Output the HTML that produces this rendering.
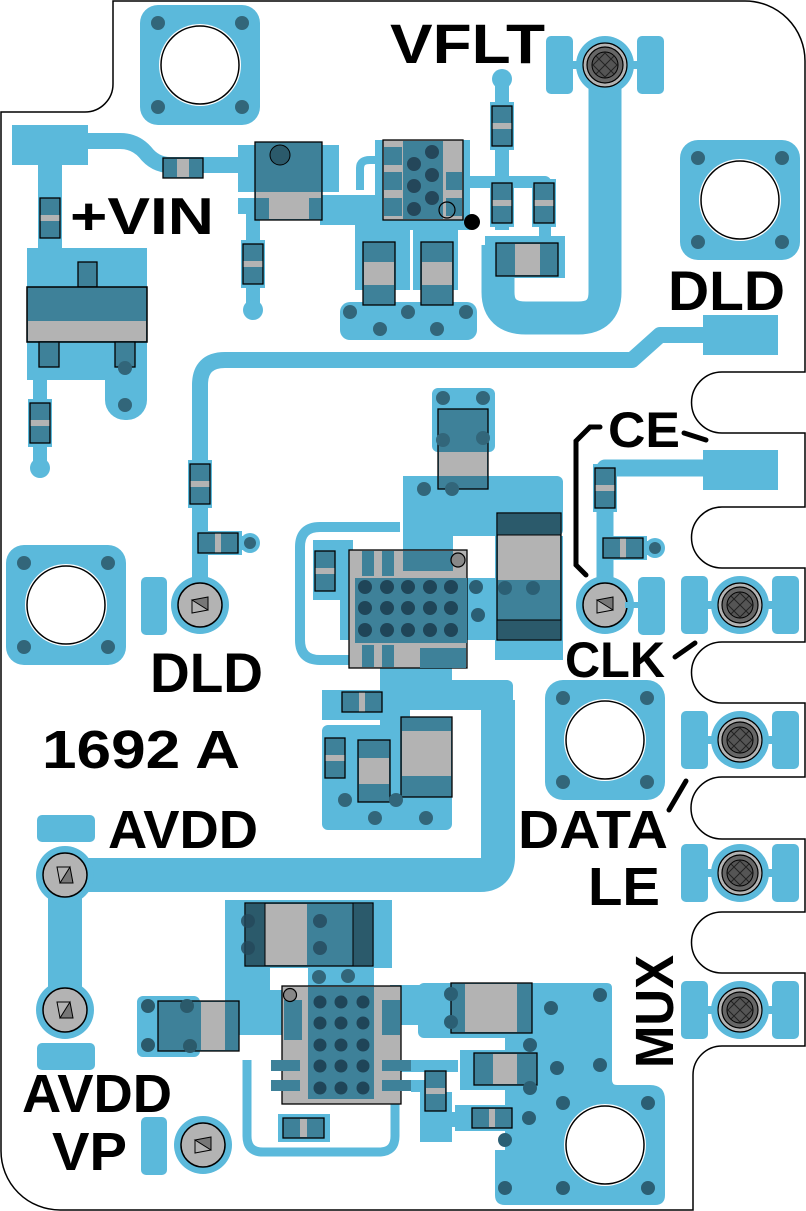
<!DOCTYPE html>
<html><head><meta charset="utf-8"><style>
html,body{margin:0;padding:0;background:#fff;}
svg{display:block;}
text{font-family:"Liberation Sans",sans-serif;font-weight:bold;fill:#000;}
</style></head><body>
<svg width="806" height="1211" viewBox="0 0 806 1211" xmlns="http://www.w3.org/2000/svg">
<defs>
<g id="conn">
 <circle r="29" fill="#5bb9db"/>
 <circle r="22" fill="#b3b3b3" stroke="#000" stroke-width="1.5"/>
 <path d="M-8,-5 L8,5 L8,-8 Z" fill="#777" stroke="#000" stroke-width="1"/>
 <path d="M-8,-5 L-8,8 L8,5" fill="none" stroke="#000" stroke-width="1"/>
</g>
<g id="dconn">
 <rect x="-59" y="-29" width="27" height="58" rx="5" fill="#5bb9db"/>
 <rect x="32" y="-29" width="27" height="58" rx="5" fill="#5bb9db"/>
 <rect x="-40" y="-4" width="80" height="8" fill="#5bb9db"/>
 <circle r="29" fill="#5bb9db"/>
 <circle r="22" fill="#b3b3b3" stroke="#000" stroke-width="1.2"/>
 <circle r="18" fill="#666" stroke="#000" stroke-width="1.2"/>
 <circle r="13" fill="#555" stroke="#000" stroke-width="1"/>
 <path d="M-9,-9 L9,9 M-9,9 L9,-9 M0,-12 L12,0 L0,12 L-12,0 Z" fill="none" stroke="#222" stroke-width="1"/>
</g>
<g id="mount">
 <rect x="-60" y="-60" width="120" height="120" rx="18" fill="#5bb9db"/>
 <circle r="41" fill="#fff"/>
 <circle r="39" fill="#fff" stroke="#000" stroke-width="1.5"/>
 <circle cx="-42" cy="-42" r="7" fill="#32667a"/><circle cx="42" cy="-42" r="7" fill="#32667a"/>
 <circle cx="-42" cy="42" r="7" fill="#32667a"/><circle cx="42" cy="42" r="7" fill="#32667a"/>
</g>
<g id="rv"><rect x="-12" y="-24" width="24" height="48" fill="#5bb9db"/><rect x="-10" y="-20" width="20" height="40" fill="#3e8199" stroke="#000" stroke-width="1.3"/><rect x="-9.3" y="-3" width="18.6" height="6" fill="#b3b3b3"/></g>
<g id="rh"><rect x="-24" y="-12" width="48" height="24" fill="#5bb9db"/><rect x="-20" y="-10" width="40" height="20" fill="#3e8199" stroke="#000" stroke-width="1.3"/><rect x="-3" y="-9.3" width="6" height="18.6" fill="#b3b3b3"/></g>
</defs>

<!-- board outline -->
<path d="M113,1 L745,1 A60,60 0 0 1 805,61 L805,372 L722,372 A30.5,30.5 0 0 0 722,433 L805,433 L805,507 L722,507 A30.5,30.5 0 0 0 722,568 L805,568 L805,642 L722,642 A30.5,30.5 0 0 0 722,703 L805,703 L805,777 L722,777 A30.5,30.5 0 0 0 722,839 L805,839 L805,912 L722,912 A30.5,30.5 0 0 0 722,973 L805,973 L805,1046 L722,1046 A29,29 0 0 0 693,1075 L693,1210 L60,1210 A59,59 0 0 1 1,1151 L1,112 L85,112 A28,28 0 0 0 113,84 Z" fill="#fff" stroke="#000" stroke-width="1.5"/>

<!-- traces -->
<g fill="none" stroke="#5bb9db" stroke-linejoin="round">
 <path d="M80,141 L120,141 Q135,141 145,152 Q155,165 170,165 L245,165" stroke-width="16"/>
 <path d="M498,245 L498,292 Q498,318 526,318 L578,318 Q605,318 605,292 L605,65" stroke-width="33"/>
 <path d="M703,335 L660,335 L632,360 L225,360 Q200,360 200,385 L200,600" stroke-width="16"/>
 <path d="M703,468 L605,468 L605,600" stroke-width="17"/>
 <path d="M50,165 L50,260" stroke-width="24"/>
 <path d="M40,370 L40,470" stroke-width="14"/>
 <path d="M253,205 L253,310" stroke-width="14"/>
 <path d="M502,79 L502,230" stroke-width="14"/>
 <path d="M400,527 L320,527 Q300,527 300,547 L300,640 Q300,660 320,660 L352,660" stroke-width="10"/>
 <path d="M65,875 L480,875 Q498,875 498,857 L498,700" stroke-width="34"/>
 <path d="M65,875 L65,1010" stroke-width="34"/>
 <path d="M247,1060 L247,1136 Q247,1152 263,1152 L379,1152 Q395,1152 395,1136 L395,1100" stroke-width="9"/>
 <path d="M360,190 L360,168 Q360,160 370,160 L390,160" stroke-width="8"/>
 <path d="M200,543 L250,543" stroke-width="14"/>
 <path d="M605,548 L655,548" stroke-width="14"/>
 <path d="M465,182 L545,182 L545,240" stroke-width="12"/>
</g>
<!-- light pads/regions -->
<g fill="#5bb9db">
 <rect x="12" y="125" width="76" height="40"/>
 <rect x="238" y="145" width="101" height="47"/>
 <rect x="238" y="198" width="165" height="16"/>
 <rect x="320" y="195" width="100" height="30"/>
 <rect x="355" y="200" width="55" height="90"/>
 <rect x="413" y="225" width="45" height="65"/>
 <rect x="375" y="140" width="95" height="90"/>
 <rect x="340" y="302" width="137" height="38" rx="10"/>
 <rect x="485" y="236" width="80" height="42"/>
 <rect x="27" y="248" width="120" height="132"/>
 <rect x="105" y="340" width="42" height="80" rx="20"/>
 <circle cx="40" cy="468" r="10"/><circle cx="253" cy="310" r="10"/><circle cx="502" cy="79" r="10"/>
 <circle cx="250" cy="543" r="10"/><circle cx="655" cy="548" r="10"/>
 <rect x="703" y="315" width="75" height="40"/>
 <rect x="703" y="450" width="75" height="40"/>
 <rect x="432" y="388" width="63" height="64" rx="6"/>
 <rect x="403" y="476" width="160" height="60" rx="6"/>
 <rect x="403" y="476" width="50" height="90"/>
 <rect x="495" y="536" width="68" height="124"/>
 <rect x="340" y="578" width="220" height="62"/>
 <rect x="313" y="540" width="40" height="60"/>
 <rect x="402" y="660" width="50" height="50"/>
 <rect x="402" y="680" width="111" height="30" rx="6"/>
 <rect x="322" y="690" width="65" height="30"/>
 <rect x="322" y="725" width="130" height="105" rx="6"/>
 <rect x="380" y="660" width="30" height="70"/>
 <rect x="141" y="577" width="26" height="58" rx="5"/>
 <rect x="141" y="1117" width="26" height="58" rx="5"/>
 <rect x="37" y="815" width="58" height="27" rx="5"/>
 <rect x="37" y="1043" width="58" height="27" rx="5"/>
 <!-- bottom area -->
 <rect x="225" y="900" width="167" height="68"/>
 <rect x="225" y="960" width="45" height="50"/>
 <rect x="225" y="990" width="60" height="45"/>
 <rect x="308" y="960" width="66" height="30"/>
 <rect x="137" y="996" width="63" height="61" rx="6"/>
 <rect x="195" y="1005" width="35" height="40"/>
 <rect x="390" y="985" width="40" height="40"/>
 <rect x="418" y="983" width="110" height="55" rx="6"/>
 <rect x="398" y="1060" width="60" height="12"/>
 <rect x="411" y="1080" width="30" height="12"/>
 <rect x="420" y="1092" width="32" height="50"/>
 <rect x="460" y="1050" width="60" height="40"/>
 <rect x="455" y="1105" width="60" height="26"/>
 <rect x="430" y="1112" width="40" height="15"/>
 <rect x="278" y="1114" width="52" height="28"/>
 <path d="M505,983 L607,983 Q612,983 612,988 L612,1080 Q612,1085 617,1085 L650,1085 Q665,1085 665,1100 L665,1195 Q665,1205 655,1205 L505,1205 Q495,1205 495,1195 L495,1150 L505,1150 Z"/>
 <rect x="505" y="983" width="12" height="140"/>
</g>
<!-- mounts -->
<use href="#mount" x="200" y="65"/>
<use href="#mount" x="740" y="200"/>
<use href="#mount" x="66" y="605"/>
<use href="#mount" x="605" y="740"/>
<circle cx="605" cy="1145" r="41" fill="#fff"/><circle cx="605" cy="1145" r="39" fill="#fff" stroke="#000" stroke-width="1.5"/>

<!-- components -->
<rect x="163" y="158" width="40" height="20" fill="#3e8199" stroke="#000" stroke-width="1.3"/><rect x="177" y="159" width="12" height="18" fill="#b3b3b3"/>
<rect x="255" y="142" width="67" height="78" fill="#3e8199" stroke="#000" stroke-width="1.3"/>
<rect x="256" y="192" width="65" height="27" fill="#b3b3b3"/><rect x="256" y="198" width="13" height="21" fill="#3e8199"/><rect x="309" y="198" width="12" height="21" fill="#3e8199"/>
<circle cx="280" cy="155" r="10" fill="#2b5a6b" stroke="#000" stroke-width="1"/>
<use href="#rv" x="50" y="218"/>
<use href="#rv" x="253" y="264"/>
<use href="#rv" x="40" y="423"/>
<rect x="78" y="262" width="19" height="25" fill="#3e8199" stroke="#000" stroke-width="1.3"/>
<rect x="27" y="287" width="120" height="55" fill="#3e8199" stroke="#000" stroke-width="1.5"/><rect x="28" y="321" width="118" height="20" fill="#b3b3b3"/>
<rect x="39" y="342" width="20" height="25" fill="#3e8199" stroke="#000" stroke-width="1.3"/>
<rect x="115" y="342" width="20" height="25" fill="#3e8199" stroke="#000" stroke-width="1.3"/>
<circle cx="125" cy="368" r="7" fill="#32667a"/><circle cx="125" cy="405" r="7" fill="#32667a"/>
<!-- vflt area -->
<rect x="383" y="140" width="80" height="80" fill="#b3b3b3" stroke="#000" stroke-width="1.3"/>
<rect x="403" y="141" width="40" height="78" fill="#3e8199"/>
<rect x="384" y="147" width="18" height="18" fill="#3e8199"/><rect x="384" y="172" width="18" height="18" fill="#3e8199"/><rect x="384" y="198" width="18" height="18" fill="#3e8199"/>
<rect x="446" y="172" width="16" height="18" fill="#3e8199"/><rect x="446" y="198" width="16" height="18" fill="#3e8199"/>
<g fill="#24475a"><circle cx="432" cy="152" r="7"/><circle cx="414" cy="164" r="7"/><circle cx="432" cy="175" r="7"/><circle cx="414" cy="186" r="7"/><circle cx="432" cy="198" r="7"/><circle cx="414" cy="209" r="7"/></g>
<circle cx="447" cy="210" r="8" fill="none" stroke="#000" stroke-width="1.2"/>
<circle cx="472" cy="222" r="8" fill="#000"/>
<use href="#rv" x="502" y="126"/><use href="#rv" x="502" y="203"/><use href="#rv" x="544" y="203"/>
<rect x="496" y="243" width="62" height="33" fill="#3e8199" stroke="#000" stroke-width="1.3"/><rect x="515" y="244" width="25" height="31" fill="#b3b3b3"/>
<rect x="363" y="242" width="32" height="63" fill="#3e8199" stroke="#000" stroke-width="1.3"/><rect x="364" y="262" width="30" height="23" fill="#b3b3b3"/>
<rect x="421" y="242" width="32" height="63" fill="#3e8199" stroke="#000" stroke-width="1.3"/><rect x="422" y="262" width="30" height="23" fill="#b3b3b3"/>
<g fill="#32667a"><circle cx="350" cy="312" r="7"/><circle cx="380" cy="329" r="7"/><circle cx="408" cy="312" r="7"/><circle cx="437" cy="329" r="7"/><circle cx="466" cy="312" r="7"/></g>
<!-- center -->
<rect x="438" y="409" width="50" height="80" fill="#3e8199" stroke="#000" stroke-width="1.3"/><rect x="439" y="452" width="48" height="24" fill="#b3b3b3"/>
<g fill="#32667a"><circle cx="443" cy="398" r="7"/><circle cx="483" cy="398" r="7"/><circle cx="443" cy="440" r="7"/><circle cx="483" cy="438" r="7"/><circle cx="424" cy="489" r="7"/><circle cx="452" cy="489" r="7"/></g>
<rect x="497" y="513" width="64" height="127" fill="#3e8199" stroke="#000" stroke-width="1.3"/>
<rect x="498" y="535" width="62" height="45" fill="#b3b3b3"/><rect x="498" y="514" width="62" height="21" fill="#2b5a6b"/><rect x="498" y="620" width="62" height="19" fill="#2b5a6b"/>
<line x1="497" y1="535" x2="561" y2="535" stroke="#000"/><line x1="497" y1="620" x2="561" y2="620" stroke="#000"/>
<rect x="349" y="550" width="118" height="118" fill="#b3b3b3" stroke="#000" stroke-width="1.3"/>
<rect x="355" y="578" width="112" height="65" fill="#3e8199"/>
<rect x="362" y="551" width="12" height="25" fill="#3e8199"/><rect x="382" y="551" width="12" height="25" fill="#3e8199"/><rect x="403" y="551" width="50" height="20" fill="#3e8199"/>
<rect x="362" y="645" width="12" height="22" fill="#3e8199"/><rect x="382" y="645" width="12" height="22" fill="#3e8199"/><rect x="420" y="648" width="46" height="20" fill="#3e8199"/>
<circle cx="458" cy="560" r="7" fill="#888" stroke="#000" stroke-width="1.2"/>
<g fill="#1f4558">
<circle cx="365" cy="587" r="7"/><circle cx="387" cy="587" r="7"/><circle cx="408" cy="587" r="7"/><circle cx="430" cy="587" r="7"/><circle cx="451" cy="587" r="7"/>
<circle cx="365" cy="608" r="7"/><circle cx="387" cy="608" r="7"/><circle cx="408" cy="608" r="7"/><circle cx="430" cy="608" r="7"/><circle cx="451" cy="608" r="7"/>
<circle cx="365" cy="630" r="7"/><circle cx="387" cy="630" r="7"/><circle cx="408" cy="630" r="7"/><circle cx="430" cy="630" r="7"/><circle cx="451" cy="630" r="7"/>
</g>
<g fill="#2b5f74"><circle cx="476" cy="587" r="7"/><circle cx="478" cy="615" r="7"/><circle cx="505" cy="588" r="7"/><circle cx="533" cy="588" r="7"/></g>
<use href="#rv" x="325" y="571"/>
<use href="#rh" x="362" y="702"/>
<use href="#rv" x="335" y="758"/>
<rect x="358" y="740" width="32" height="62" fill="#3e8199" stroke="#000" stroke-width="1.3"/><rect x="359" y="758" width="30" height="26" fill="#b3b3b3"/>
<rect x="401" y="717" width="51" height="80" fill="#3e8199" stroke="#000" stroke-width="1.3"/><rect x="402" y="731" width="49" height="45" fill="#b3b3b3"/>
<g fill="#32667a"><circle cx="345" cy="800" r="7"/><circle cx="396" cy="800" r="7"/><circle cx="375" cy="818" r="7"/><circle cx="426" cy="818" r="7"/></g>
<use href="#rv" x="200" y="484"/>
<use href="#rh" x="218" y="543"/>
<circle cx="250" cy="543" r="6" fill="#32667a"/>
<use href="#rv" x="605" y="488"/>
<use href="#rh" x="623" y="548"/>
<circle cx="655" cy="548" r="6" fill="#32667a"/>
<!-- bottom -->
<rect x="245" y="903" width="128" height="63" fill="#3e8199" stroke="#000" stroke-width="1.3"/>
<rect x="265" y="904" width="42" height="61" fill="#b3b3b3"/>
<rect x="246" y="904" width="19" height="61" fill="#2b5a6b"/><rect x="353" y="904" width="19" height="61" fill="#2b5a6b"/>
<line x1="265" y1="903" x2="265" y2="966" stroke="#000"/><line x1="353" y1="903" x2="353" y2="966" stroke="#000"/>
<g fill="#24475a" fill-opacity="0.8"><circle cx="248" cy="921" r="7"/><circle cx="248" cy="948" r="7"/><circle cx="320" cy="921" r="7"/><circle cx="320" cy="948" r="7"/></g>
<g fill="#32667a"><circle cx="319" cy="977" r="7"/><circle cx="348" cy="976" r="7"/></g>
<rect x="158" y="1001" width="81" height="50" fill="#3e8199" stroke="#000" stroke-width="1.3"/><rect x="201" y="1002" width="24" height="48" fill="#b3b3b3"/>
<g fill="#2b5a6b"><circle cx="148" cy="1006" r="7"/><circle cx="187" cy="1006" r="7"/><circle cx="148" cy="1045" r="7"/><circle cx="190" cy="1046" r="7"/></g>
<rect x="282" y="986" width="119" height="118" fill="#b3b3b3" stroke="#000" stroke-width="1.3"/>
<rect x="308" y="987" width="66" height="112" fill="#3e8199"/>
<rect x="284" y="1000" width="18" height="40" fill="#3e8199"/><rect x="382" y="1000" width="18" height="35" fill="#3e8199"/>
<rect x="271" y="1060" width="29" height="11" fill="#3e8199"/><rect x="271" y="1080" width="29" height="11" fill="#3e8199"/>
<rect x="382" y="1060" width="29" height="11" fill="#3e8199"/><rect x="382" y="1080" width="29" height="11" fill="#3e8199"/>
<circle cx="290" cy="995" r="6.5" fill="#888" stroke="#000" stroke-width="1.2"/>
<g fill="#1f4558">
<circle cx="320" cy="1002" r="6.5"/><circle cx="341" cy="1002" r="6.5"/><circle cx="363" cy="1002" r="6.5"/>
<circle cx="320" cy="1023" r="6.5"/><circle cx="341" cy="1023" r="6.5"/><circle cx="363" cy="1023" r="6.5"/>
<circle cx="320" cy="1045" r="6.5"/><circle cx="341" cy="1045" r="6.5"/><circle cx="363" cy="1045" r="6.5"/>
<circle cx="320" cy="1066" r="6.5"/><circle cx="341" cy="1066" r="6.5"/><circle cx="363" cy="1066" r="6.5"/>
<circle cx="320" cy="1088" r="6.5"/><circle cx="341" cy="1088" r="6.5"/><circle cx="363" cy="1088" r="6.5"/>
</g>
<rect x="283" y="1118" width="41" height="20" fill="#3e8199" stroke="#000" stroke-width="1.3"/><rect x="300" y="1119" width="7" height="18" fill="#b3b3b3"/>
<rect x="451" y="983" width="81" height="50" fill="#3e8199" stroke="#000" stroke-width="1.3"/><rect x="465" y="984" width="52" height="48" fill="#b3b3b3"/>
<rect x="474" y="1053" width="63" height="32" fill="#3e8199" stroke="#000" stroke-width="1.3"/><rect x="493" y="1054" width="24" height="30" fill="#b3b3b3"/>
<rect x="425" y="1071" width="21" height="40" fill="#3e8199" stroke="#000" stroke-width="1.3"/><rect x="426" y="1088" width="19" height="6" fill="#b3b3b3"/>
<rect x="472" y="1108" width="40" height="20" fill="#3e8199" stroke="#000" stroke-width="1.3"/><rect x="489" y="1109" width="6" height="18" fill="#b3b3b3"/>
<g fill="#2b5f74"><circle cx="451" cy="994" r="7"/><circle cx="451" cy="1022" r="7"/><circle cx="600" cy="995" r="7"/><circle cx="551" cy="1008" r="7"/><circle cx="530" cy="1045" r="7"/>
<circle cx="557" cy="1068" r="7"/><circle cx="600" cy="1065" r="7"/><circle cx="530" cy="1088" r="7"/><circle cx="563" cy="1103" r="7"/><circle cx="648" cy="1103" r="7"/>
<circle cx="529" cy="1118" r="7"/><circle cx="505" cy="1140" r="7"/><circle cx="505" cy="1188" r="7"/><circle cx="563" cy="1188" r="7"/><circle cx="648" cy="1188" r="7"/></g>

<!-- connectors -->
<use href="#dconn" x="605" y="65"/>
<use href="#dconn" x="740" y="605"/>
<use href="#dconn" x="740" y="740"/>
<use href="#dconn" x="740" y="873"/>
<use href="#dconn" x="740" y="1010"/>
<use href="#conn" x="200" y="605"/>
<use href="#conn" x="605" y="605"/>
<rect x="638" y="577" width="27" height="58" rx="5" fill="#5bb9db"/>
<rect x="625" y="602" width="20" height="6" fill="#5bb9db"/>
<use href="#conn" x="65" y="875" transform="rotate(90 65 875)"/>
<use href="#conn" x="65" y="1010" transform="rotate(90 65 1010)"/>
<use href="#conn" x="203" y="1145"/>

<!-- lines -->
<g stroke="#000" stroke-width="5" fill="none" stroke-linecap="round">
 <path d="M600,427 L590,427 L576,441 L576,565 L586,575"/>
 <path d="M684,433 L706,440"/>
 <path d="M675,657 L695,643"/>
 <path d="M669,810 L686,781"/>
</g>
<!-- labels -->
<text x="390" y="63" font-size="56" textLength="155" lengthAdjust="spacingAndGlyphs">VFLT</text>
<text x="70" y="234" font-size="52" textLength="144" lengthAdjust="spacingAndGlyphs">+VIN</text>
<text x="668" y="310" font-size="56" textLength="117" lengthAdjust="spacingAndGlyphs">DLD</text>
<text x="608" y="447" font-size="50" textLength="72" lengthAdjust="spacingAndGlyphs">CE</text>
<text x="565" y="677" font-size="50" textLength="100" lengthAdjust="spacingAndGlyphs">CLK</text>
<text x="150" y="692" font-size="56" textLength="113" lengthAdjust="spacingAndGlyphs">DLD</text>
<text x="42" y="768" font-size="54" textLength="198" lengthAdjust="spacingAndGlyphs">1692 A</text>
<text x="108" y="848" font-size="54" textLength="150" lengthAdjust="spacingAndGlyphs">AVDD</text>
<text x="518" y="848" font-size="54" textLength="150" lengthAdjust="spacingAndGlyphs">DATA</text>
<text x="588" y="905" font-size="54" textLength="72" lengthAdjust="spacingAndGlyphs">LE</text>
<text x="22" y="1112" font-size="54" textLength="150" lengthAdjust="spacingAndGlyphs">AVDD</text>
<text x="52" y="1170" font-size="54" textLength="75" lengthAdjust="spacingAndGlyphs">VP</text>
<text transform="translate(673,1068) rotate(-90)" font-size="54" textLength="113" lengthAdjust="spacingAndGlyphs">MUX</text>
</svg>
</body></html>
